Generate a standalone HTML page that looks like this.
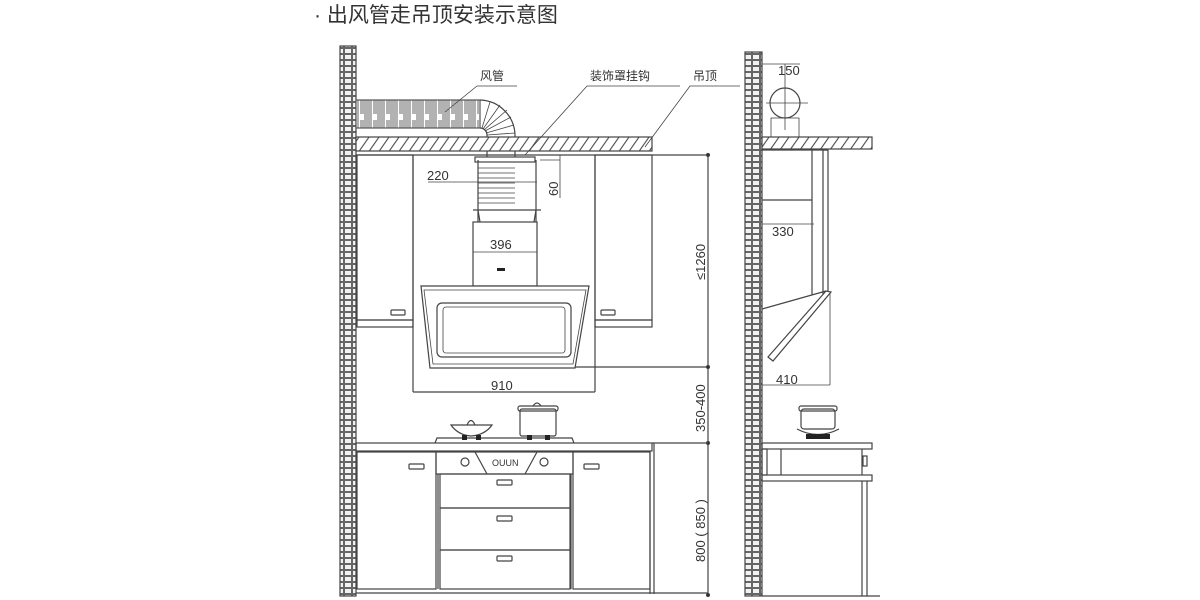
<!DOCTYPE html>
<html><head><meta charset="utf-8"><style>
html,body{margin:0;padding:0;background:#fff;width:1200px;height:600px;overflow:hidden}
svg{display:block}
text{font-family:"Liberation Sans","Noto Sans CJK SC",sans-serif;fill:#333}
</style></head><body>
<svg width="1200" height="600" viewBox="0 0 1200 600" xmlns="http://www.w3.org/2000/svg">
<defs>
<pattern id="brick" width="8" height="6" patternUnits="userSpaceOnUse">
<rect width="8" height="6" fill="#666"/>
<rect x="1" y="1" width="6" height="4" fill="#f2f2f2"/>
</pattern>
<pattern id="hatch" width="10" height="14" patternUnits="userSpaceOnUse" patternTransform="skewX(-35)">
<rect width="10" height="14" fill="#fff"/>
<line x1="5" y1="0" x2="5" y2="14" stroke="#444" stroke-width="1.3"/>
</pattern>
<pattern id="duct" width="13" height="30" patternUnits="userSpaceOnUse">
<rect width="13" height="30" fill="#fff"/>
<line x1="1" y1="0" x2="1" y2="30" stroke="#555" stroke-width="0.9"/>
<line x1="3" y1="0" x2="3" y2="30" stroke="#555" stroke-width="0.9"/>
<line x1="5" y1="0" x2="5" y2="30" stroke="#555" stroke-width="0.9"/>
<line x1="7" y1="0" x2="7" y2="30" stroke="#555" stroke-width="0.9"/>
<line x1="10" y1="0" x2="10" y2="24" stroke="#555" stroke-width="0.9"/>
<line x1="12" y1="0" x2="12" y2="24" stroke="#555" stroke-width="0.9"/>
</pattern>
</defs>
<text x="314" y="22" font-size="21" fill="#333">· 出风管走吊顶安装示意图</text>

<g stroke="#444" fill="none" stroke-width="1.2">
<rect x="340" y="46" width="16" height="550" fill="url(#brick)" stroke="#444"/>
<rect x="356" y="100" width="124" height="28" fill="url(#duct)" stroke="#555"/>
<path d="M480 100 A36 36 0 0 1 515 135 L515 160 M480 128 A7 7 0 0 1 487 135 L487 160" />
<path d="M482 128 L490 102 M483 129 L500 105 M484 130 L507 110 M485 131 L511 117 M486 133 L514 125 M487 135 L515 133" stroke-width="0.8"/>
<g stroke-width="0.8">
<line x1="478" y1="140" x2="536" y2="140"/><line x1="478" y1="145" x2="536" y2="145"/>
<line x1="478" y1="168" x2="515" y2="168"/><line x1="478" y1="173" x2="515" y2="173"/>
<line x1="478" y1="178" x2="515" y2="178"/><line x1="478" y1="183" x2="515" y2="183"/>
<line x1="478" y1="188" x2="515" y2="188"/><line x1="478" y1="193" x2="515" y2="193"/>
<line x1="478" y1="198" x2="515" y2="198"/><line x1="478" y1="203" x2="515" y2="203"/>
</g>
<rect x="356" y="137" width="296" height="14" fill="url(#hatch)" stroke="#444"/>
<line x1="356" y1="155" x2="708" y2="155"/>
<path d="M517 86 L477 86 L445 112" stroke-width="0.8"/>
<path d="M680 86 L587 86 L525 155" stroke-width="0.8"/>
<path d="M740 86 L690 86 L645 147" stroke-width="0.8"/>
<rect x="475" y="157" width="60" height="5" fill="#fff"/>
<line x1="540" y1="160" x2="560" y2="160" stroke-width="0.8"/>
<line x1="560" y1="155" x2="560" y2="198" stroke-width="0.8"/>
<line x1="428" y1="182" x2="537" y2="182" stroke-width="0.8"/>
<line x1="478" y1="160" x2="478" y2="222"/>
<line x1="536" y1="160" x2="536" y2="222"/>
<line x1="473" y1="210" x2="541" y2="210"/>
<path d="M478 210 L480 222 M536 210 L534 222" />
<rect x="473" y="222" width="64" height="64"/>
<line x1="473" y1="252" x2="537" y2="252" stroke-width="0.8"/>
<rect x="497" y="268" width="8" height="3" fill="#222" stroke="none"/>
<rect x="357" y="155" width="56" height="165"/>
<rect x="357" y="320" width="56" height="7"/>
<rect x="391" y="310" width="14" height="5" rx="1"/>
<line x1="413" y1="155" x2="413" y2="392"/>
<line x1="595" y1="155" x2="595" y2="392"/>
<rect x="595" y="155" width="57" height="165"/>
<rect x="595" y="320" width="57" height="7"/>
<rect x="601" y="310" width="14" height="5" rx="1"/>
<path d="M421 286 L589 286 L575 368 L430 368 Z" fill="#fff"/>
<path d="M424 290 L586 290 L573 364 L433 364 Z" stroke-width="0.8"/>
<rect x="437" y="303" width="134" height="54" rx="5"/>
<rect x="443" y="307" width="122" height="46" rx="3" stroke-width="0.8"/>
<line x1="575" y1="367" x2="708" y2="367"/>
<line x1="413" y1="392" x2="595" y2="392"/>
<line x1="708" y1="155" x2="708" y2="596"/>
<circle cx="708" cy="155" r="1.5" fill="#222"/>
<circle cx="708" cy="367" r="1.5" fill="#222"/>
<circle cx="708" cy="443" r="1.5" fill="#222"/>
<circle cx="708" cy="595" r="1.5" fill="#222"/>
<path d="M435 443 L437 438 L572 438 L574 443"/>
<path d="M451 425 L492 425 Q485 435 471 436 Q458 435 451 425 Z"/>
<path d="M467 425 Q471 416 475 425"/>
<rect x="462" y="435" width="5" height="5" fill="#222" stroke="none"/>
<rect x="476" y="435" width="5" height="5" fill="#222" stroke="none"/>
<rect x="520" y="409" width="36" height="27" rx="2"/>
<rect x="518" y="406" width="40" height="5" rx="2"/>
<path d="M533 406 Q537 400 541 406"/>
<rect x="527" y="435" width="5" height="5" fill="#222" stroke="none"/>
<rect x="545" y="435" width="5" height="5" fill="#222" stroke="none"/>
<rect x="356" y="443" width="296" height="8"/>
<line x1="652" y1="443" x2="708" y2="443"/>
<rect x="357" y="452" width="79" height="137"/>
<rect x="409" y="464" width="15" height="5" rx="1"/>
<rect x="436" y="452" width="137" height="22"/>
<path d="M475 452 L487 474 M525 474 L537 452"/>
<circle cx="465" cy="462" r="4"/><circle cx="544" cy="462" r="4"/>
<line x1="438" y1="474" x2="438" y2="589"/>
<line x1="571" y1="474" x2="571" y2="589"/>
<rect x="440" y="474" width="130" height="34"/>
<rect x="440" y="508" width="130" height="42"/>
<rect x="440" y="550" width="130" height="39"/>
<rect x="497" y="480" width="15" height="5" rx="1"/>
<rect x="497" y="516" width="15" height="5" rx="1"/>
<rect x="497" y="556" width="15" height="5" rx="1"/>
<rect x="573" y="452" width="77" height="137"/>
<rect x="584" y="464" width="15" height="5" rx="1"/>
<line x1="650" y1="452" x2="650" y2="594"/>
<line x1="654" y1="443" x2="654" y2="594"/>
<line x1="356" y1="593" x2="708" y2="593"/>

<rect x="745" y="52" width="17" height="544" fill="url(#brick)" stroke="#444"/>
<line x1="762" y1="64" x2="800" y2="64" stroke-width="0.8"/>
<line x1="785" y1="64" x2="785" y2="130" stroke-width="0.8"/>
<circle cx="785" cy="103" r="15"/>
<line x1="766" y1="103" x2="808" y2="103" stroke-width="0.8"/>
<rect x="771" y="118" width="28" height="19" stroke-width="0.8"/>
<rect x="762" y="137" width="110" height="12" fill="url(#hatch)" stroke="#444"/>
<line x1="762" y1="150" x2="828" y2="150"/>
<line x1="812" y1="150" x2="812" y2="295"/>
<rect x="823" y="150" width="5" height="145"/>
<line x1="762" y1="200" x2="812" y2="200"/>
<line x1="762" y1="224" x2="814" y2="224" stroke-width="0.8"/>
<path d="M768 357 L826 291 L831 292 L773 361 Z" fill="#fff"/>
<line x1="762" y1="309" x2="826" y2="291"/>
<line x1="830" y1="293" x2="830" y2="385" stroke-width="0.8"/>
<line x1="762" y1="385" x2="830" y2="385" stroke-width="0.8"/>
<rect x="801" y="409" width="34" height="20" rx="3"/>
<rect x="799" y="406" width="38" height="5" rx="2"/>
<path d="M797 429 Q818 440 839 429"/>
<rect x="806" y="434" width="24" height="5" fill="#222" stroke="none"/>
<rect x="762" y="443" width="110" height="6"/>
<rect x="762" y="449" width="5" height="26"/>
<line x1="781" y1="449" x2="781" y2="475"/>
<line x1="862" y1="449" x2="862" y2="475"/>
<rect x="863" y="456" width="4" height="10"/>
<rect x="762" y="475" width="110" height="6"/>
<line x1="862" y1="481" x2="862" y2="596"/>
<line x1="867" y1="481" x2="867" y2="596"/>
<line x1="762" y1="596" x2="880" y2="596"/>
</g>

<g font-size="13" fill="#333">
<text x="427" y="180">220</text>
<text x="490" y="249">396</text>
<text x="491" y="390">910</text>
<text x="778" y="75">150</text>
<text x="772" y="236">330</text>
<text x="776" y="384">410</text>
<text x="558" y="196" transform="rotate(-90 558 196)">60</text>
<text x="705" y="280" transform="rotate(-90 705 280)">≤1260</text>
<text x="705" y="432" transform="rotate(-90 705 432)">350-400</text>
<text x="705" y="562" transform="rotate(-90 705 562)">800 ( 850 )</text>
</g>
<g font-size="12" fill="#333">
<text x="480" y="80">风管</text>
<text x="590" y="80">装饰罩挂钩</text>
<text x="693" y="80">吊顶</text>
<text x="492" y="466" font-size="9">OUUN</text>
</g>
</svg>
</body></html>
